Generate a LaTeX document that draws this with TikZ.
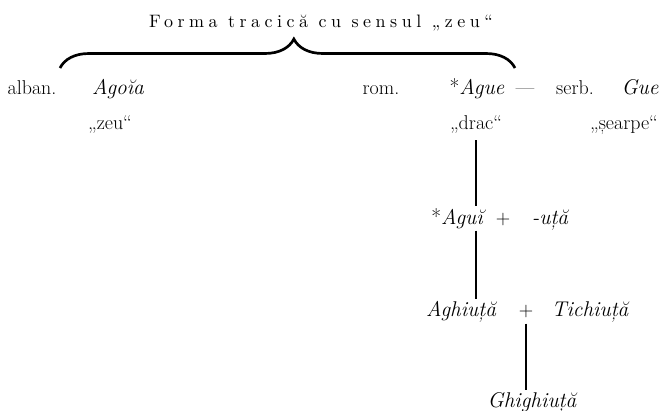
\documentclass[tikz,border=0pt]{standalone}
\usepackage{fontspec}
\newfontfamily\trackedfont{lmroman10-regular.otf}[LetterSpace=25]
\usetikzlibrary{decorations.pathreplacing, positioning}

\begin{document}
\begin{tikzpicture}[
    x=0.75pt, y=-0.75pt,
    word/.style={anchor=base, inner sep=1.5pt, font={\fontsize{15}{18}\selectfont}},
    form/.style={word, font={\fontsize{16}{18}\selectfont\itshape}},
    heading/.style={anchor=base, inner sep=1.5pt,
        font={\trackedfont\fontsize{13.5}{16}\selectfont}},
    link/.style={line width=0.9pt},
    bracket/.style={decorate, line width=2pt,
        decoration={brace, amplitude=21.75pt, aspect=0.514}},
]
\useasboundingbox (0,0) rectangle (672,411);

% Title and brace
\node[heading] (title) at (321,27) {Forma tracică cu sensul „zeu“};
\coordinate (braceL) at (60,68);
\coordinate (braceR) at (515,68);
\draw[bracket] (braceL) -- (braceR);

% First row: the three languages
\node[word] (alban) at (32,94) {alban.};
\node[form] (agoia) at (118,94) {Agoĭa};
\node[word] (rom) at (381,94) {rom.};
\node[form] (ague) at (477,94) {{\upshape*}Ague};
\node[word] (dash) at (525,94) {—};
\node[word] (serb) at (575,94) {serb.};
\node[form] (gue) at (640,94) {Gue};

% Meanings
\node[word] (zeu) at (110,129) {„zeu“};
\node[word] (drac) at (476,129) {„drac“};
\node[word] (searpe) at (624,129) {„șearpe“};

% Derivation
\node[form] (agui) at (457,224) {{\upshape*}Aguĭ};
\node[word] (plusA) at (503,224) {+};
\node[form] (uta) at (550,224) {-uță};

\node[form] (aghiuta) at (461,316) {Aghiuță};
\node[word] (plusB) at (526,316) {+};
\node[form] (tichiuta) at (590,316) {Tichiuță};

\node[form] (ghighiuta) at (532,407) {Ghighiuță};

\draw[link, shorten <=4pt] (drac.south) -- (drac.south |- agui.north);
\draw[link] (drac.south |- agui.south) -- (drac.south |- aghiuta.north);
\draw[link, shorten <=3pt] (plusB.south) -- (plusB.south |- ghighiuta.north);

\end{tikzpicture}
\end{document}
